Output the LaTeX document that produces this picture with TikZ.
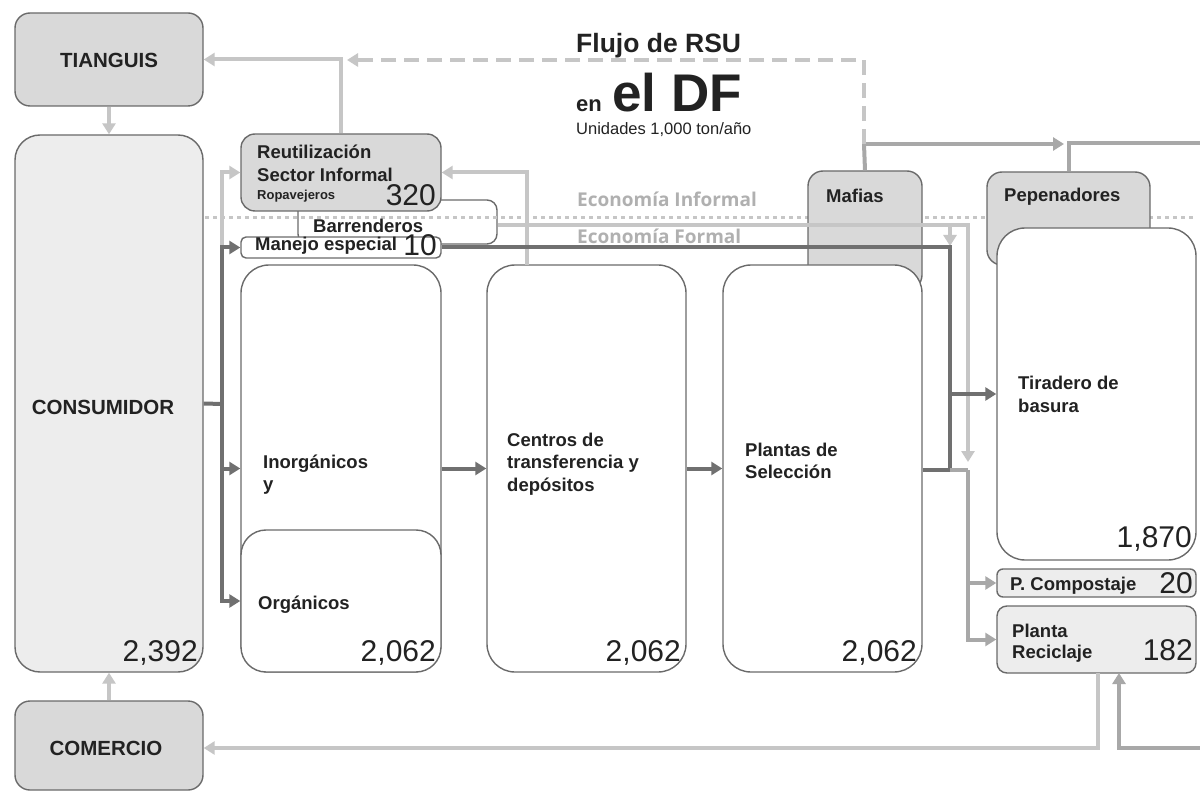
\documentclass[tikz,border=0pt]{standalone}
\usepackage{fontspec}
\setmainfont{Liberation Sans}
\newfontfamily\econfont{Open Sans}
\usetikzlibrary{arrows.meta,fit}
\definecolor{boxgray}{HTML}{D9D9D9}
\definecolor{boxlight}{HTML}{EDEDED}
\definecolor{bordergray}{HTML}{6A6A6A}
\definecolor{lightln}{HTML}{C6C6C6}
\definecolor{midln}{HTML}{A8A8A8}
\definecolor{darkln}{HTML}{707070}
\definecolor{txt}{HTML}{222222}
\definecolor{econ}{HTML}{B0B0B0}
\begin{document}
\begin{tikzpicture}[x=1pt,y=-1pt,
  rbox/.style={draw=bordergray, line width=1.4pt, rounded corners=#1, inner sep=0pt},
  lbl/.style={font=\fontsize{18.5}{20}\selectfont\bfseries, inner sep=0pt, text=txt},
  caplbl/.style={font=\fontsize{20.5}{22}\selectfont\bfseries, inner sep=0pt, text=txt},
  smlbl/.style={font=\fontsize{13}{15}\selectfont\bfseries, inner sep=0pt, text=txt},
  num/.style={font=\fontsize{30}{32}\selectfont, inner sep=0pt, anchor=base east, text=txt},
  tip/.style={-{Triangle[length=11pt,width=13pt]}},
  lightline/.style={draw=lightln, line width=4pt},
  midline/.style={draw=midln, line width=4pt},
  darkline/.style={draw=darkln, line width=4pt},
  dashline/.style={draw=lightln, line width=4pt, dash pattern=on 15pt off 8pt},
  dotline/.style={draw=lightln, line width=3pt, dash pattern=on 4pt off 4pt},
  econlbl/.style={font=\econfont\fontsize{19}{21}\selectfont\bfseries, inner sep=0pt, text=econ, anchor=base west}
]
\useasboundingbox (0,0) rectangle (1200,794);
\fill[white] (0,0) rectangle (1200,794);

% background box and separator
\node[rbox=10, fill=white, fit={(298,200) (497,244)}] (barr) {};
\draw[dotline] (205,218) coordinate (dl) -- (1195,218) coordinate (dr);

% boxes
\node[rbox=15, fill=boxgray, fit={(15,13) (203,106)}] (tianguis) {};
\node[rbox=25, fill=boxlight, fit={(15,135) (203,672)}] (cons) {};
\node[rbox=15, fill=boxgray, fit={(15,701) (203,790)}] (comercio) {};
\node[rbox=14, fill=boxgray, fit={(241,134) (441,211)}] (reut) {};
\node[rbox=5, fill=white, fit={(241,237) (441,258)}] (manejo) {};
\node[rbox=15, fill=boxgray, fit={(808,171) (922,290)}] (mafias) {};
\node[rbox=15, fill=boxgray, fit={(987,172) (1150,265)}] (pep) {};
\node[rbox=28, fill=white, fit={(241,265) (441,672)}] (inorg) {};
\node[rbox=25, fill=white, fit={(241,530) (441,672)}] (org) {};
\node[rbox=28, fill=white, fit={(487,265) (686,672)}] (centros) {};
\node[rbox=28, fill=white, fit={(723,265) (922,672)}] (plantas) {};
\node[rbox=28, fill=white, fit={(997,228) (1196,560)}] (tiradero) {};
\node[rbox=6, fill=boxlight, fit={(997,569) (1196,597)}] (compost) {};
\node[rbox=10, fill=boxlight, fit={(997,606) (1196,673)}] (recic) {};

% connectors
\coordinate (spine) at (222,404);
\draw[darkline] (cons.east) -- (spine);
\draw[lightline, tip] (spine |- manejo.west) |- (reut.west);
\draw[darkline, tip] (spine) |- (manejo.west);
\draw[darkline, tip] (spine) |- (inorg.west);
\draw[darkline, tip] (spine) |- (org.west);
\draw[lightline, tip] (tianguis.south) -- (cons.north);
\draw[lightline, tip] (comercio.north) -- (cons.south);
\draw[darkline, tip] (inorg.east |- centros.west) -- (centros.west);
\draw[darkline, tip] (centros.east) -- (plantas.west);

\coordinate (cn) at (527,265);
\draw[lightline, tip] (cn) |- (reut.east);
\draw[lightline, tip] (reut.north) |- (tianguis.east);

\coordinate (mf) at (864,144);
\coordinate (mfarrow) at (1064,144);
\coordinate (tiarrow) at (347,60);
\draw[midline] (mafias.north) -- (mf);
\draw[midline, tip] (mf) -- (mfarrow);
\draw[dashline, tip] (mf) |- (tiarrow);
\coordinate (pepout) at (1200,143);
\draw[midline] (pep.north) |- (pepout);

\coordinate (bx) at (968,225);
\coordinate (bend) at (968,462);
\coordinate (bsplit) at (950,225);
\coordinate (bsplitend) at (950,246);
\draw[lightline, tip] (barr.east |- bx) -- (bx) -- (bend);
\draw[lightline, tip] (bsplit) -- (bsplitend);

\coordinate (k) at (950,470);
\coordinate (m) at (968,470);
\draw[darkline] (manejo.east) -| (k);
\draw[darkline] (plantas.east |- k) -- (k);
\draw[darkline, tip] (k |- tiradero.west) -- (tiradero.west);
\draw[midline] (k) -- (m);
\draw[midline, tip] (m) |- (compost.west);
\draw[midline, tip] (m) |- (recic.west);

\coordinate (rc) at (1098,673);
\coordinate (rin) at (1119,673);
\coordinate (rightin) at (1200,748);
\draw[lightline, tip] (rc) |- (comercio.east |- rightin);
\draw[midline, tip] (rightin) -| (rin);

% texts
\node[caplbl] (t1) at (109,60) {TIANGUIS};
\node[caplbl] (t2) at (103,407) {CONSUMIDOR};
\node[caplbl] (t3) at (106,748) {COMERCIO};
\node[num] (n1) at (198,661) {2,392};
\node[lbl, anchor=base west] (t4) at (257,159) {Reutilización};
\node[lbl, anchor=base west] (t5) at (257,182) {Sector Informal};
\node[smlbl, anchor=base west] (t6) at (257,200) {Ropavejeros};
\node[num] (n2) at (436,206) {320};
\node[lbl, anchor=base west] (t7) at (313,233) {Barrenderos};
\node[lbl, anchor=base west] (t8) at (255,251) {Manejo especial};
\node[num] (n3) at (437,256) {10};
\node[econlbl] (t9) at (577,207) {Economía Informal};
\node[econlbl] (t10) at (577,244) {Economía Formal};
\node[font=\fontsize{26.5}{28}\selectfont\bfseries, inner sep=0pt, anchor=base west, text=txt] (t11) at (576,53) {Flujo de RSU};
\node[font=\fontsize{22}{24}\selectfont\bfseries, inner sep=0pt, anchor=base west, text=txt] (t12) at (576,112) {en};
\node[font=\fontsize{53}{56}\selectfont\bfseries, inner sep=0pt, anchor=base west, text=txt] (t13) at (612,112) {el DF};
\node[font=\fontsize{16.5}{18}\selectfont, inner sep=0pt, anchor=base west, text=txt] (t14) at (576,135) {Unidades 1,000 ton/año};
\node[lbl, anchor=base west] (t15) at (826,203) {Mafias};
\node[lbl, anchor=base west] (t16) at (1004,202) {Pepenadores};
\node[lbl, anchor=base west] (t17) at (263,468) {Inorgánicos};
\node[lbl, anchor=base west] (t18) at (263,490) {y};
\node[lbl, anchor=base west] (t19) at (258,609) {Orgánicos};
\node[num] (n4) at (436,661) {2,062};
\node[lbl, anchor=base west] (t20) at (507,446) {Centros de};
\node[lbl, anchor=base west] (t21) at (507,468) {transferencia y};
\node[lbl, anchor=base west] (t22) at (507,491) {depósitos};
\node[num] (n5) at (681,661) {2,062};
\node[lbl, anchor=base west] (t23) at (745,456) {Plantas de};
\node[lbl, anchor=base west] (t24) at (745,478) {Selección};
\node[num] (n6) at (917,661) {2,062};
\node[lbl, anchor=base west] (t25) at (1018,390) {Tiradero de};
\node[lbl, anchor=base west] (t26) at (1018,412) {basura};
\node[num] (n7) at (1192,547) {1,870};
\node[lbl, anchor=base west] (t27) at (1010,590) {P. Compostaje};
\node[num] (n8) at (1193,593) {20};
\node[lbl, anchor=base west] (t28) at (1012,637) {Planta};
\node[lbl, anchor=base west] (t29) at (1012,658) {Reciclaje};
\node[num] (n9) at (1193,660) {182};
\end{tikzpicture}
\end{document}
